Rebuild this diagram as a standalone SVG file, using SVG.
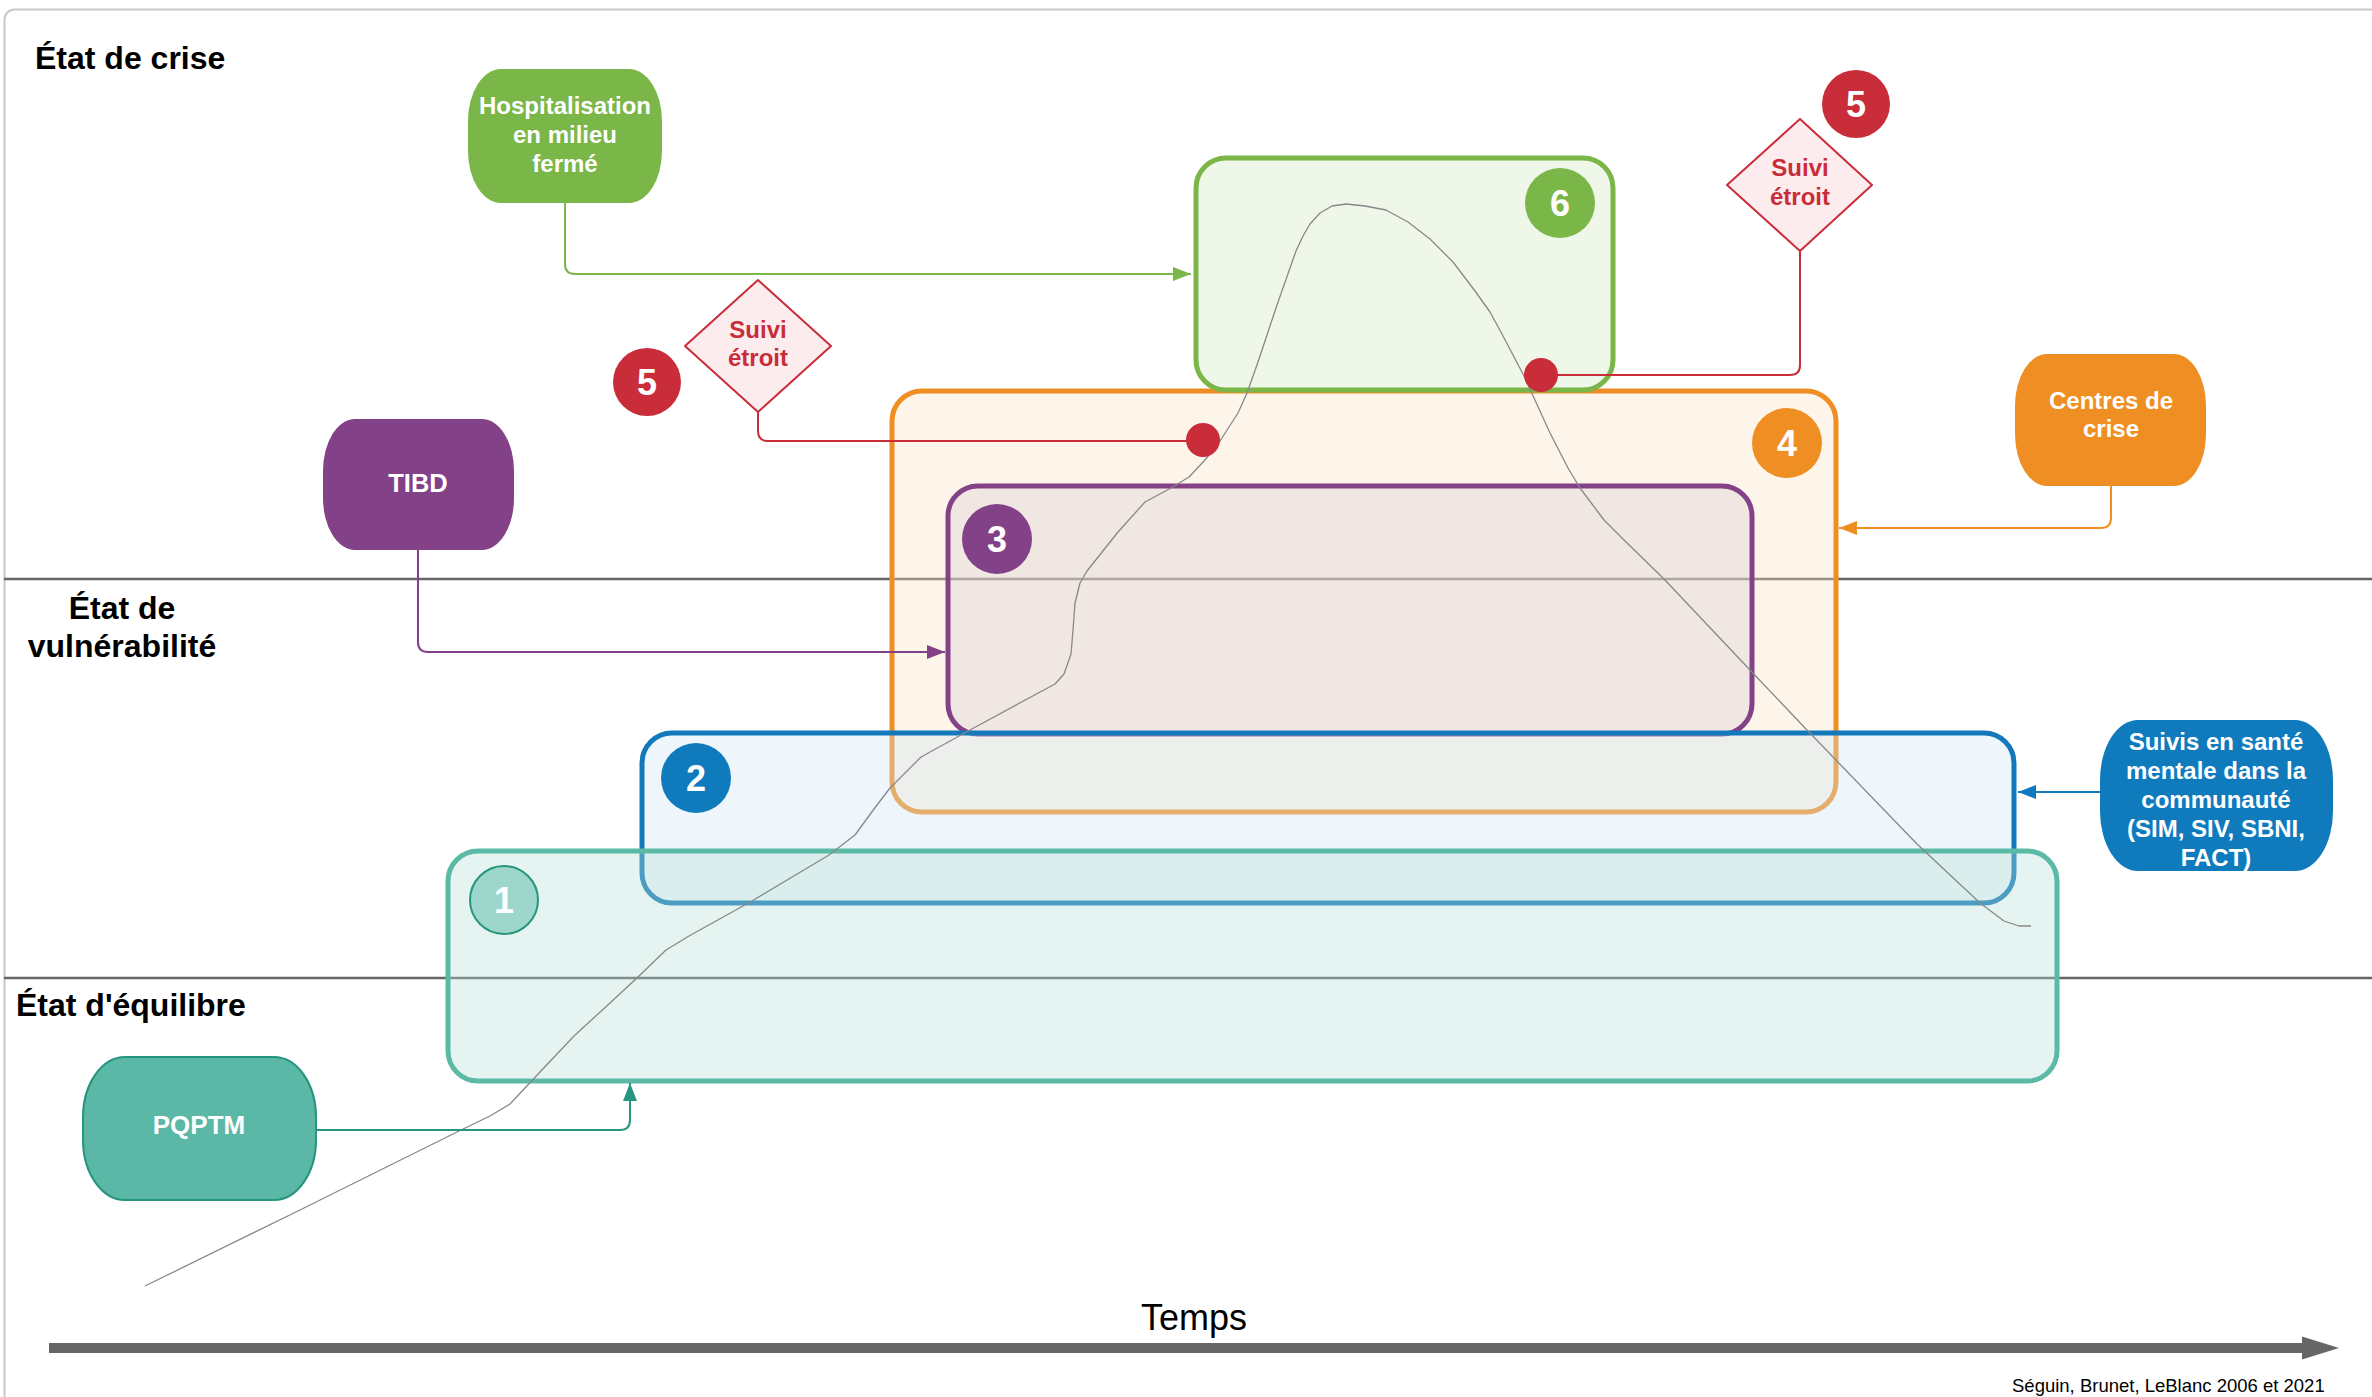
<svg xmlns="http://www.w3.org/2000/svg" width="2372" height="1397" viewBox="0 0 2372 1397">
<defs>
<style>
.lbl{font-family:"Liberation Sans",Arial,sans-serif;font-weight:bold;font-size:32px;fill:#000}
.nt{font-family:"Liberation Sans",Arial,sans-serif;font-weight:bold;font-size:24px;fill:#fff;text-anchor:middle}
.dt{font-family:"Liberation Sans",Arial,sans-serif;font-weight:bold;font-size:24px;fill:#c92d39;text-anchor:middle}
.bt{font-family:"Liberation Sans",Arial,sans-serif;font-weight:bold;font-size:36px;fill:#fff;text-anchor:middle}
.box{stroke-width:5}
.conn{fill:none;stroke-width:2}
.band{stroke:#666;stroke-width:2.5}
</style>
<marker id="ag" viewBox="0 0 18 14" refX="18" refY="7" markerWidth="18" markerHeight="14" markerUnits="userSpaceOnUse" orient="auto"><path d="M0,0 L18,7 L0,14 Z" fill="#7ab648"/></marker>
<marker id="ap" viewBox="0 0 18 14" refX="18" refY="7" markerWidth="18" markerHeight="14" markerUnits="userSpaceOnUse" orient="auto"><path d="M0,0 L18,7 L0,14 Z" fill="#834187"/></marker>
<marker id="ao" viewBox="0 0 18 14" refX="18" refY="7" markerWidth="18" markerHeight="14" markerUnits="userSpaceOnUse" orient="auto"><path d="M0,0 L18,7 L0,14 Z" fill="#ef8f23"/></marker>
<marker id="ab" viewBox="0 0 18 14" refX="18" refY="7" markerWidth="18" markerHeight="14" markerUnits="userSpaceOnUse" orient="auto"><path d="M0,0 L18,7 L0,14 Z" fill="#0f7bbd"/></marker>
<marker id="at" viewBox="0 0 18 14" refX="18" refY="7" markerWidth="18" markerHeight="14" markerUnits="userSpaceOnUse" orient="auto"><path d="M0,0 L18,7 L0,14 Z" fill="#26957d"/></marker>
</defs>
<rect width="2372" height="1397" fill="#fff"/>
<rect x="4.5" y="9.5" width="2420" height="1420" rx="10" fill="none" stroke="#c8c8c8" stroke-width="2"/>
<g id="bands">
<line class="band" x1="4" y1="579" x2="2372" y2="579"/>
<line class="band" x1="4" y1="978" x2="2372" y2="978"/>
</g>
<g id="time-axis">
<line x1="49" y1="1348" x2="2303" y2="1348" stroke="#666" stroke-width="10"/>
<polygon points="2302,1336.5 2339,1348 2302,1359.5" fill="#666"/>
<text x="1194" y="1330" font-family="Liberation Sans, Arial, sans-serif" font-size="36" text-anchor="middle" fill="#000">Temps</text>
<text x="2012" y="1392" font-family="Liberation Sans, Arial, sans-serif" font-size="18.5" fill="#000">Séguin, Brunet, LeBlanc 2006 et 2021</text>
</g>
<g id="labels">
<text class="lbl" x="35" y="69">État de crise</text>
<text class="lbl" x="122" y="619" text-anchor="middle">État de</text>
<text class="lbl" x="122" y="657" text-anchor="middle">vulnérabilité</text>
<text class="lbl" x="16" y="1016">État d'équilibre</text>
</g>
<g id="box4"><rect class="box" x="892" y="391" width="944" height="421" rx="30" fill="#f9e2c0" fill-opacity="0.35" stroke="#ef8f23"/></g>
<g id="box3"><rect class="box" x="948" y="486" width="804" height="248" rx="30" fill="#d8cad8" fill-opacity="0.35" stroke="#834187"/></g>
<g id="box6"><rect class="box" x="1196" y="158" width="417" height="232" rx="30" fill="#d1e8c0" fill-opacity="0.35" stroke="#7ab648"/></g>
<g id="box2"><rect class="box" x="642" y="733" width="1372" height="170" rx="30" fill="#cee5f6" fill-opacity="0.35" stroke="#1479ba"/></g>
<g id="box1"><rect class="box" x="448" y="851" width="1609" height="230" rx="30" fill="#b5e0d4" fill-opacity="0.35" stroke="#5bbaa6"/></g>
<g id="curve">
<polyline fill="none" stroke="#888" stroke-width="1.3" stroke-linejoin="round" points="145,1286 300,1210 459,1131 490,1116 510,1104 540,1072 574,1036 610,1003 638,977 666,950 689,936 752,901 829,855 855,835 874,809 890,788 921,757 970,730 1055,684 1064,674 1071,654 1073,630 1075,603 1080,583 1087,571 1118,532 1145,502 1171,488 1189,477 1205,460 1220,441 1238,413 1247,393 1258,362 1277,305 1296,251 1303,236 1310,224 1320,213 1332,206 1346,204 1365,206 1386,210 1408,222 1430,239 1453,262 1475,291 1490,312 1502,334 1524,376 1550,433 1568,468 1580,488 1604,520 1624,540 1664,579 1750,670 1806,729 1917,844 1980,903 2004,921 2019,926 2031,926"/>
</g>
<g id="connectors">
<path class="conn" stroke="#7ab648" d="M565,203 V264 Q565,274 575,274 H1191" marker-end="url(#ag)"/>
<path class="conn" stroke="#834187" d="M418,550 V642 Q418,652 428,652 H945" marker-end="url(#ap)"/>
<path class="conn" stroke="#ef8f23" d="M2111,486 V518 Q2111,528 2101,528 H1839" marker-end="url(#ao)"/>
<path class="conn" stroke="#0f7bbd" stroke-width="3" d="M2100,792 H2018" marker-end="url(#ab)"/>
<path class="conn" stroke="#26957d" d="M316,1130 H620 Q630,1130 630,1120 V1083" marker-end="url(#at)"/>
<path class="conn" stroke="#c92d39" stroke-width="3" d="M758,412 V431 Q758,441 768,441 H1203"/>
<path class="conn" stroke="#c92d39" stroke-width="3" d="M1800,251 V365 Q1800,375 1790,375 H1541"/>
<circle cx="1203" cy="440" r="17" fill="#c92d39"/>
<circle cx="1541" cy="375" r="17" fill="#c92d39"/>
</g>
<g id="badge1"><circle cx="504" cy="900" r="34" fill="#9dd6ca" stroke="#26957d" stroke-width="2"/><text class="bt" x="504" y="913">1</text></g>
<g id="badge2"><circle cx="696" cy="778" r="35" fill="#0f7bbd"/><text class="bt" x="696" y="791">2</text></g>
<g id="badge3"><circle cx="997" cy="539" r="35" fill="#834187"/><text class="bt" x="997" y="552">3</text></g>
<g id="badge4"><circle cx="1787" cy="443" r="35" fill="#ef8f23"/><text class="bt" x="1787" y="456">4</text></g>
<g id="badge6"><circle cx="1560" cy="203" r="35" fill="#7ab648"/><text class="bt" x="1560" y="216">6</text></g>
<g id="badge5a"><circle cx="647" cy="382" r="34" fill="#c92d39"/><text class="bt" x="647" y="395">5</text></g>
<g id="badge5b"><circle cx="1856" cy="104" r="34" fill="#c92d39"/><text class="bt" x="1856" y="117">5</text></g>
<g id="suivi-a"><polygon points="758,280 831,346 758,412 685,346" fill="#fdeced" stroke="#c92d39" stroke-width="2" stroke-linejoin="round"/><text class="dt" x="758" y="338">Suivi</text><text class="dt" x="758" y="366">étroit</text></g>
<g id="suivi-b"><polygon points="1800,119 1872,185 1800,251 1727,185" fill="#fdeced" stroke="#c92d39" stroke-width="2" stroke-linejoin="round"/><text class="dt" x="1800" y="176">Suivi</text><text class="dt" x="1800" y="205">étroit</text></g>
<g id="hospitalisation"><rect x="468" y="69" width="194" height="134" rx="33" ry="52" fill="#7ab648"/><text class="nt" x="565" y="114">Hospitalisation</text><text class="nt" x="565" y="143">en milieu</text><text class="nt" x="565" y="172">fermé</text></g>
<g id="tibd"><rect x="323" y="419" width="191" height="131" rx="32" ry="52" fill="#834187"/><text class="nt" x="418" y="492" style="font-size:25.5px">TIBD</text></g>
<g id="centres"><rect x="2015" y="354" width="191" height="132" rx="32" ry="52" fill="#ef8f23"/><text class="nt" x="2111" y="409">Centres de</text><text class="nt" x="2111" y="437">crise</text></g>
<g id="suivis"><rect x="2100" y="720" width="233" height="151" rx="38" ry="60" fill="#0f7bbd"/><text class="nt" x="2216" y="750">Suivis en santé</text><text class="nt" x="2216" y="779">mentale dans la</text><text class="nt" x="2216" y="808">communauté</text><text class="nt" x="2216" y="837">(SIM, SIV, SBNI,</text><text class="nt" x="2216" y="866">FACT)</text></g>
<g id="pqptm"><rect x="83" y="1057" width="233" height="143" rx="42" ry="60" fill="#5bb8a6" stroke="#26957d" stroke-width="2"/><text class="nt" x="199" y="1134" style="font-size:26px">PQPTM</text></g>
</svg>
